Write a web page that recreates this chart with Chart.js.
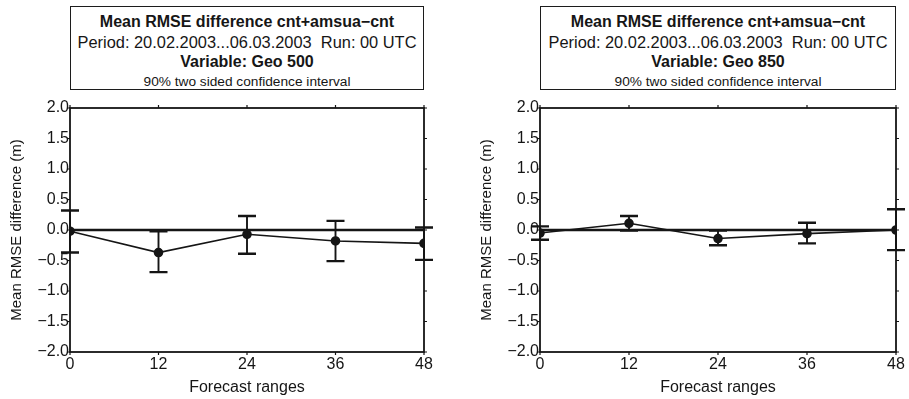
<!DOCTYPE html>
<html>
<head>
<meta charset="utf-8">
<script src="https://cdn.jsdelivr.net/npm/chart.js@4/dist/chart.umd.min.js"></script>
<style>
  body { margin: 0; background: #fff; font-family: "Liberation Sans", Arial, sans-serif; color: #161616; }
  #page { position: relative; width: 909px; height: 399px; overflow: hidden; }
  .panel { position: absolute; top: 0; }
  .titlebox {
    position: absolute; top: 6px; height: 84px; box-sizing: border-box;
    border: 1.6px solid #1c1c1c; text-align: center; padding-top: 5px;
  }
  .titlebox div { height: 20px; line-height: 20px; font-size: 16.4px; white-space: nowrap; }
  .titlebox .b { font-weight: bold; font-size: 16px; }
  .titlebox .s { font-size: 13.7px; }
</style>
</head>
<body>
<div id="page">
  <div class="titlebox" style="left:70px;width:354px">
    <div class="b">Mean RMSE difference cnt+amsua&minus;cnt</div>
    <div>Period: 20.02.2003...06.03.2003&nbsp; Run: 00 UTC</div>
    <div class="b">Variable: Geo 500</div>
    <div class="s">90% two sided confidence interval</div>
  </div>
  <div class="titlebox" style="left:540px;width:356px">
    <div class="b">Mean RMSE difference cnt+amsua&minus;cnt</div>
    <div>Period: 20.02.2003...06.03.2003&nbsp; Run: 00 UTC</div>
    <div class="b">Variable: Geo 850</div>
    <div class="s">90% two sided confidence interval</div>
  </div>
  <canvas id="geo500" class="panel" style="left:0px" width="454" height="399"></canvas>
  <canvas id="geo850" class="panel" style="left:470px" width="439" height="399"></canvas>
</div>
<script>
// forecast ranges (hours)
const ranges = [0, 12, 24, 36, 48];
const yTicks = [-2, -1.5, -1, -0.5, 0, 0.5, 1, 1.5, 2];

// Geo 500: mean RMSE difference and 90% interval bounds
const mean500 = [-0.02, -0.37, -0.07, -0.18, -0.22];
const upper500 = [0.32, -0.02, 0.23, 0.15, 0.04];
const lower500 = [-0.37, -0.69, -0.39, -0.51, -0.49];

// Geo 850
const mean850 = [-0.05, 0.11, -0.14, -0.06, 0.0];
const upper850 = [0.06, 0.23, -0.01, 0.12, 0.34];
const lower850 = [-0.16, -0.01, -0.25, -0.22, -0.33];

const ink = "#151515";
const family = "'Liberation Sans', Arial, sans-serif";
const tickFont = { family: family, size: 16 };

function fmt(v) {
  return (v < 0 ? "\u2212" : "") + Math.abs(v).toFixed(1);
}

// box round the plot with short outward ticks on every side
const frame = {
  id: "frame",
  afterDraw(chart) {
    const { ctx, chartArea: a, scales } = chart;
    const t = 3;
    ctx.save();
    ctx.strokeStyle = ink;
    ctx.lineWidth = 1.8;
    ctx.strokeRect(a.left, a.top, a.right - a.left, a.bottom - a.top);
    ctx.lineWidth = 1.2;
    ctx.beginPath();
    yTicks.forEach((v) => {
      const y = scales.y.getPixelForValue(v);
      ctx.moveTo(a.left - t, y); ctx.lineTo(a.left, y);
      ctx.moveTo(a.right, y); ctx.lineTo(a.right + t, y);
    });
    ranges.forEach((v) => {
      const x = scales.x.getPixelForValue(v);
      ctx.moveTo(x, a.bottom); ctx.lineTo(x, a.bottom + t);
      ctx.moveTo(x, a.top - t); ctx.lineTo(x, a.top);
    });
    ctx.stroke();
    ctx.restore();
  }
};

// vertical interval bars with caps
const errorBars = {
  id: "errorBars",
  afterDatasetsDraw(chart, args, opts) {
    const { ctx, scales } = chart;
    ctx.save();
    ctx.strokeStyle = ink;
    ranges.forEach((r, i) => {
      const x = scales.x.getPixelForValue(r);
      const yHi = scales.y.getPixelForValue(opts.upper[i]);
      const yLo = scales.y.getPixelForValue(opts.lower[i]);
      ctx.lineWidth = 1.9;
      ctx.beginPath();
      ctx.moveTo(x, yHi); ctx.lineTo(x, yLo);
      ctx.stroke();
      ctx.lineWidth = 2.4;
      ctx.beginPath();
      ctx.moveTo(x - 9, yHi); ctx.lineTo(x + 9, yHi);
      ctx.moveTo(x - 9, yLo); ctx.lineTo(x + 9, yLo);
      ctx.stroke();
    });
    ctx.restore();
  }
};

function makeChart(id, mean, upper, lower, rightPad) {
  const ctx = document.getElementById(id).getContext("2d");
  return new Chart(ctx, {
    type: "line",
    data: {
      datasets: [
        {
          // zero reference line
          data: [{ x: ranges[0], y: 0 }, { x: ranges[ranges.length - 1], y: 0 }],
          borderColor: ink,
          borderWidth: 2.6,
          pointRadius: 0
        },
        {
          data: ranges.map((r, i) => ({ x: r, y: mean[i] })),
          borderColor: ink,
          borderWidth: 1.6,
          pointRadius: 4,
          pointBackgroundColor: ink,
          pointBorderColor: ink
        }
      ]
    },
    options: {
      responsive: false,
      animation: false,
      layout: { padding: { top: 108, right: rightPad, bottom: 0, left: 0 } },
      plugins: {
        legend: { display: false },
        tooltip: { enabled: false },
        errorBars: { upper: upper, lower: lower }
      },
      scales: {
        x: {
          type: "linear",
          min: 0,
          max: 48,
          afterFit: (s) => { s.height = 47; },
          afterBuildTicks: (s) => { s.ticks = ranges.map((v) => ({ value: v })); },
          grid: { display: false, drawTicks: false },
          border: { display: false },
          ticks: { font: tickFont, color: ink, padding: 3, maxRotation: 0 },
          title: { display: true, text: "Forecast ranges", font: { family: family, size: 16 }, color: ink, padding: { top: 0, bottom: 2 } }
        },
        y: {
          min: -2,
          max: 2,
          afterFit: (s) => { s.width = 70; },
          afterBuildTicks: (s) => { s.ticks = yTicks.map((v) => ({ value: v })); },
          grid: { display: false, drawTicks: false },
          border: { display: false },
          ticks: { font: tickFont, color: ink, padding: 1, callback: fmt },
          title: { display: true, text: "Mean RMSE difference (m)", font: { family: family, size: 15 }, color: ink, padding: { top: 8, bottom: 0 } }
        }
      }
    },
    plugins: [frame, errorBars]
  });
}

makeChart("geo500", mean500, upper500, lower500, 30);
makeChart("geo850", mean850, upper850, lower850, 13);
</script>
</body>
</html>
